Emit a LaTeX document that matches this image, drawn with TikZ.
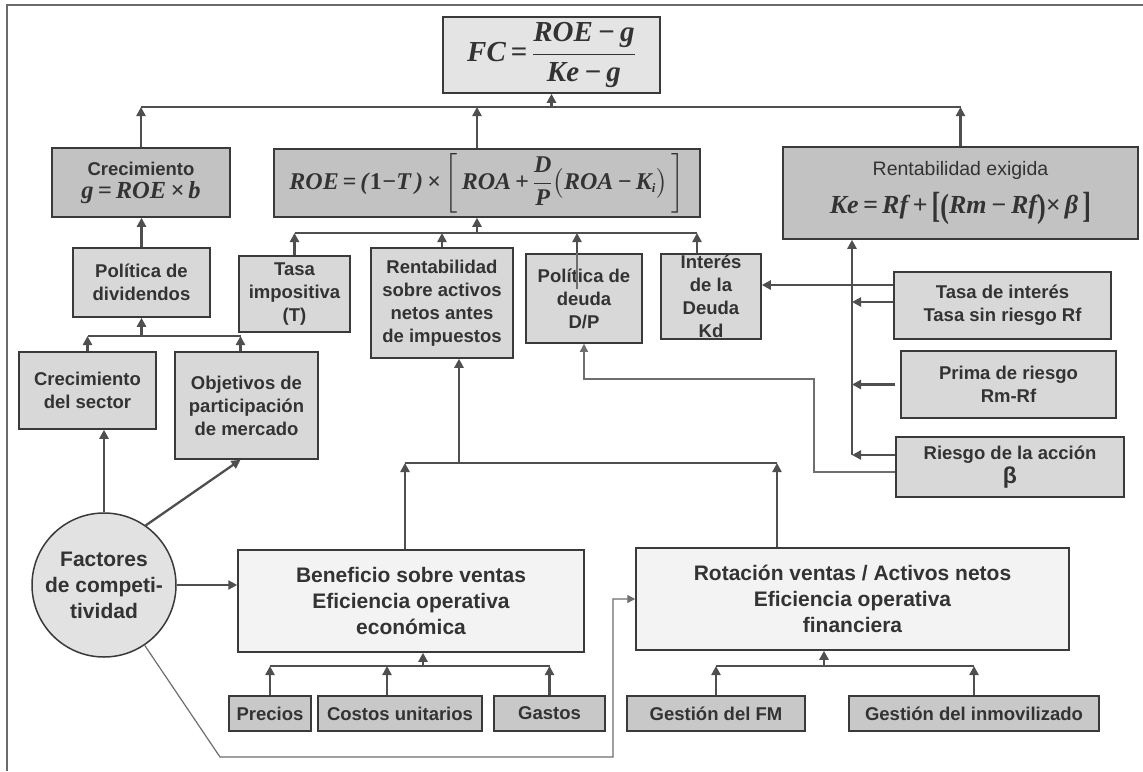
\documentclass[tikz,border=0pt]{standalone}
\usepackage{fix-cm}
\usepackage{amsmath}
\usepackage{graphicx}
\usepackage{fontspec}
\setmainfont{Liberation Sans}
\newfontfamily\fml{Liberation Serif}
\usetikzlibrary{arrows.meta}

\definecolor{bdr}{HTML}{3A3A3A}
\definecolor{txt}{HTML}{333333}
\definecolor{ln}{HTML}{4F4F4F}
\definecolor{ln2}{HTML}{6E6E6E}
\definecolor{frm}{HTML}{6A6A6A}
\definecolor{fMid}{HTML}{C2C2C2}
\definecolor{fLt}{HTML}{D8D8D8}
\definecolor{fBot}{HTML}{C8C8C8}
\definecolor{fFC}{HTML}{E4E4E4}
\definecolor{fPale}{HTML}{F3F3F3}
\definecolor{fCirc}{HTML}{E2E2E2}

% stretched upright text delimiter for the cost of equity formula
\newcommand{\talldelim}[2][1.3]{\raisebox{-0.14em}{\scalebox{1}[#1]{\upshape #2}}}

\begin{document}
\begin{tikzpicture}[x=1pt,y=-1pt,
  box/.style={draw=bdr,line width=1.5pt,inner sep=0pt,align=center,text=txt,
              font=\bfseries\fontsize{18.5}{23}\selectfont},
  big/.style={font=\bfseries\fontsize{21}{26}\selectfont},
  wire/.style={draw=ln,line width=2.3pt},
  arr/.style={wire,-{Triangle[length=9pt,width=9pt]}},
  fine/.style={draw=ln2,line width=1.2pt},
  finearr/.style={fine,-{Triangle[length=8pt,width=8pt]}}]

\useasboundingbox (0,0) rectangle (1143,771);
\fill[white] (0,0) rectangle (1143,771);
\draw[frm,line width=1.3pt] (7,771) -- (7,5) -- (1143,5);

% ---------- top level ----------
\node[box,fill=fFC,minimum width=217pt,minimum height=76pt] (fc) at (551.5,55)
  {\fml\fontsize{29}{32}\selectfont\bfseries\itshape FC\,=\,$\dfrac{\mbox{ROE\,−\,g}}{\mbox{Ke\,−\,g}}$};

\node[box,fill=fMid,minimum width=178pt,minimum height=69pt] (crec) at (141,182.5)
  {Crecimiento\\{\fml\fontsize{24.5}{28}\selectfont\bfseries\itshape g\,=\,ROE\,×\,b}};

\node[box,fill=fMid,minimum width=426pt,minimum height=68pt] (roe) at (487,183)
  {\fml\fontsize{24}{28}\selectfont\bfseries\itshape ROE\,=\,(\textup{1}−T\,)\,×\,$\bigg[\,\mbox{ROA\,+\,}\dfrac{\mbox{D}}{\mbox{P}}\big(\mbox{ROA\,−\,K}_{\mbox{\fontsize{13}{13}\selectfont i}}\big)\,\bigg]$};

\node[box,fill=fMid,minimum width=355pt,minimum height=92pt] (ke) at (960.5,193)
  {{\mdseries\fontsize{19.5}{23}\selectfont Rentabilidad exigida}\\[12pt]
   {\fml\fontsize{26}{28}\selectfont\bfseries\itshape Ke\,=\,Rf\,+\,\talldelim[1.4]{[}\talldelim{(}Rm\,−\,Rf\talldelim{)}×\,β\,\talldelim[1.4]{]}}};

% ---------- second level ----------
\node[box,fill=fLt,minimum width=111pt,minimum height=76pt] (tasa) at (294.5,294)
  {Tasa\\impositiva\\(T)};
\node[box,fill=fLt,minimum width=142pt,minimum height=110pt] (rsa) at (442,303)
  {Rentabilidad\\sobre activos\\netos antes\\de impuestos};
\node[box,fill=fLt,minimum width=116pt,minimum height=89pt] (pdeuda) at (584,298.5)
  {Política de\\deuda\\D/P};
\node[box,fill=fLt,minimum width=100pt,minimum height=85pt] (kd) at (711,296.5)
  {Interés\\de la\\Deuda\\Kd};

\node[box,fill=fLt,minimum width=217pt,minimum height=67pt] (tint) at (1002.5,305.5)
  {Tasa de interés\\Tasa sin riesgo Rf};
\node[box,fill=fLt,minimum width=215pt,minimum height=67pt] (prima) at (1008.5,384.5)
  {Prima de riesgo\\Rm-Rf};
\node[box,fill=fLt,minimum width=228pt,minimum height=60pt] (riesgo) at (1010,467)
  {Riesgo de la acción\\[1pt]{\fontsize{23}{23}\selectfont β}};

\node[box,fill=fLt,minimum width=137pt,minimum height=69pt] (pdiv) at (141.5,282.5)
  {Política de\\dividendos};
\node[box,fill=fLt,minimum width=137pt,minimum height=77pt] (csec) at (87.5,390.5)
  {Crecimiento\\del sector};
\node[box,fill=fLt,minimum width=143pt,minimum height=107pt] (obj) at (246.5,405.5)
  {Objetivos de\\participación\\de mercado};

% ---------- lower part ----------
\node[box,big,circle,fill=fCirc,minimum size=144pt] (circ) at (104,585)
  {Factores\\de competi-\\tividad};

\node[box,big,fill=fPale,minimum width=346pt,minimum height=102pt] (benef) at (411,601)
  {Beneficio sobre ventas\\Eficiencia operativa\\económica};
\node[box,big,fill=fPale,minimum width=433pt,minimum height=102pt] (rot) at (852.5,599)
  {Rotación ventas / Activos netos\\Eficiencia operativa\\financiera};

\node[box,fill=fBot,minimum width=82pt,minimum height=35pt] (precios) at (270,713.5) {Precios};
\node[box,fill=fBot,minimum width=164pt,minimum height=35pt] (costos) at (400,713.5) {Costos unitarios};
\node[box,fill=fBot,minimum width=111pt,minimum height=35pt] (gastos) at (549.5,713.5) {Gastos};
\node[box,fill=fBot,minimum width=178pt,minimum height=35pt] (gfm) at (716,713.5) {Gestión del FM};
\node[box,fill=fBot,minimum width=250pt,minimum height=35pt] (ginm) at (974,713.5) {Gestión del inmovilizado};

% ---------- connectors: top bus into FC ----------
\coordinate (busT) at (0,107);
\coordinate (roeN) at ([xshift=-10pt]roe.north);
\draw[wire] (crec.north |- busT) -- (ke.north |- busT);
\draw[arr] (fc.south |- busT) -- (fc.south);
\draw[arr] (crec.north) -- (crec.north |- busT);
\draw[arr] (roeN) -- (roeN |- busT);
\draw[arr] (ke.north) -- (ke.north |- busT);

% ---------- bus into ROE ----------
\coordinate (busR) at (0,233);
\coordinate (roeS) at ([xshift=-10pt]roe.south);
\coordinate (pdN) at ([xshift=-7pt]pdeuda.north);
\coordinate (pdIn) at ([xshift=-7pt,yshift=-36pt]pdeuda.north);
\coordinate (kdN) at ([xshift=-14pt]kd.north);
\draw[wire] (tasa.north |- busR) -- (kdN |- busR);
\draw[arr] (roeS |- busR) -- (roeS);
\draw[arr] (tasa.north) -- (tasa.north |- busR);
\draw[arr] (rsa.north) -- (rsa.north |- busR);
\draw[fine] (pdIn) -- (pdN);
\draw[arr] (pdN) -- (pdN |- busR);
\draw[arr] (kdN) -- (kdN |- busR);

% ---------- growth branch ----------
\draw[arr] (pdiv.north) -- (pdiv.north |- crec.south);
\coordinate (busD) at (0,336);
\coordinate (objN) at ([xshift=-6pt]obj.north);
\draw[wire] (csec.north |- busD) -- (objN |- busD);
\draw[arr] (pdiv.south |- busD) -- (pdiv.south);
\draw[arr] (csec.north) -- (csec.north |- busD);
\draw[arr] (objN) -- (objN |- busD);

% ---------- competitiveness factors ----------
\coordinate (objS) at ([xshift=-6pt]obj.south);
\draw[arr] (circ.north) -- (circ.north |- csec.south);
\draw[arr] (circ.55) -- (objS);
\draw[arr] (circ.east) -- (circ.east -| benef.west);
\coordinate (lowL) at (220,757);
\coordinate (lowR) at (613,757);
\draw[finearr] (circ.-56) -- (lowL) -- (lowR) |- (rot.west);

% ---------- operating efficiency into return on assets ----------
\coordinate (busM) at (0,463);
\coordinate (bfN) at ([xshift=-6pt]benef.north);
\coordinate (rtN) at ([xshift=-75.5pt]rot.north);
\coordinate (rsaS) at ([xshift=17pt]rsa.south);
\draw[wire] (bfN |- busM) -- (rtN |- busM);
\draw[arr] (bfN) -- (bfN |- busM);
\draw[arr] (rtN) -- (rtN |- busM);
\draw[arr] (rsaS |- busM) -- (rsaS);

% ---------- bottom drivers ----------
\coordinate (busB) at (0,666);
\coordinate (coN) at ([xshift=-13pt]costos.north);
\coordinate (bfS) at ([xshift=12pt]benef.south);
\draw[wire] (precios.north |- busB) -- (gastos.north |- busB);
\draw[arr] (bfS |- busB) -- (bfS);
\draw[arr] (precios.north) -- (precios.north |- busB);
\draw[arr] (coN) -- (coN |- busB);
\draw[arr] (gastos.north) -- (gastos.north |- busB);
\coordinate (rtS) at ([xshift=-28.5pt]rot.south);
\draw[wire] (gfm.north |- busB) -- (ginm.north |- busB);
\draw[arr] (rtS |- busB) -- (rtS);
\draw[arr] (gfm.north) -- (gfm.north |- busB);
\draw[arr] (ginm.north) -- (ginm.north |- busB);

% ---------- required return inputs ----------
\coordinate (kx) at ([xshift=-108.5pt]ke.south);
\coordinate (rq) at ([yshift=12pt]riesgo.west);
\coordinate (pq) at ([xshift=-5pt]prima.west);
\coordinate (tq) at ([yshift=3.5pt]tint.west);
\coordinate (tk) at ([yshift=20.5pt]tint.west);
\draw[arr] (kx |- rq) -- (kx);
\draw[arr] (rq) -- (rq -| kx);
\draw[arr] (pq) -- (pq -| kx);
\draw[arr] (tq) -- (tq -| kx);
\draw[arr] (tk) -- (tk -| kd.east);
\coordinate (bend) at (814,379);
\coordinate (rlow) at ([yshift=-5pt]riesgo.west);
\draw[finearr] (rlow) -| (bend) -| (pdeuda.south);

\end{tikzpicture}
\end{document}
